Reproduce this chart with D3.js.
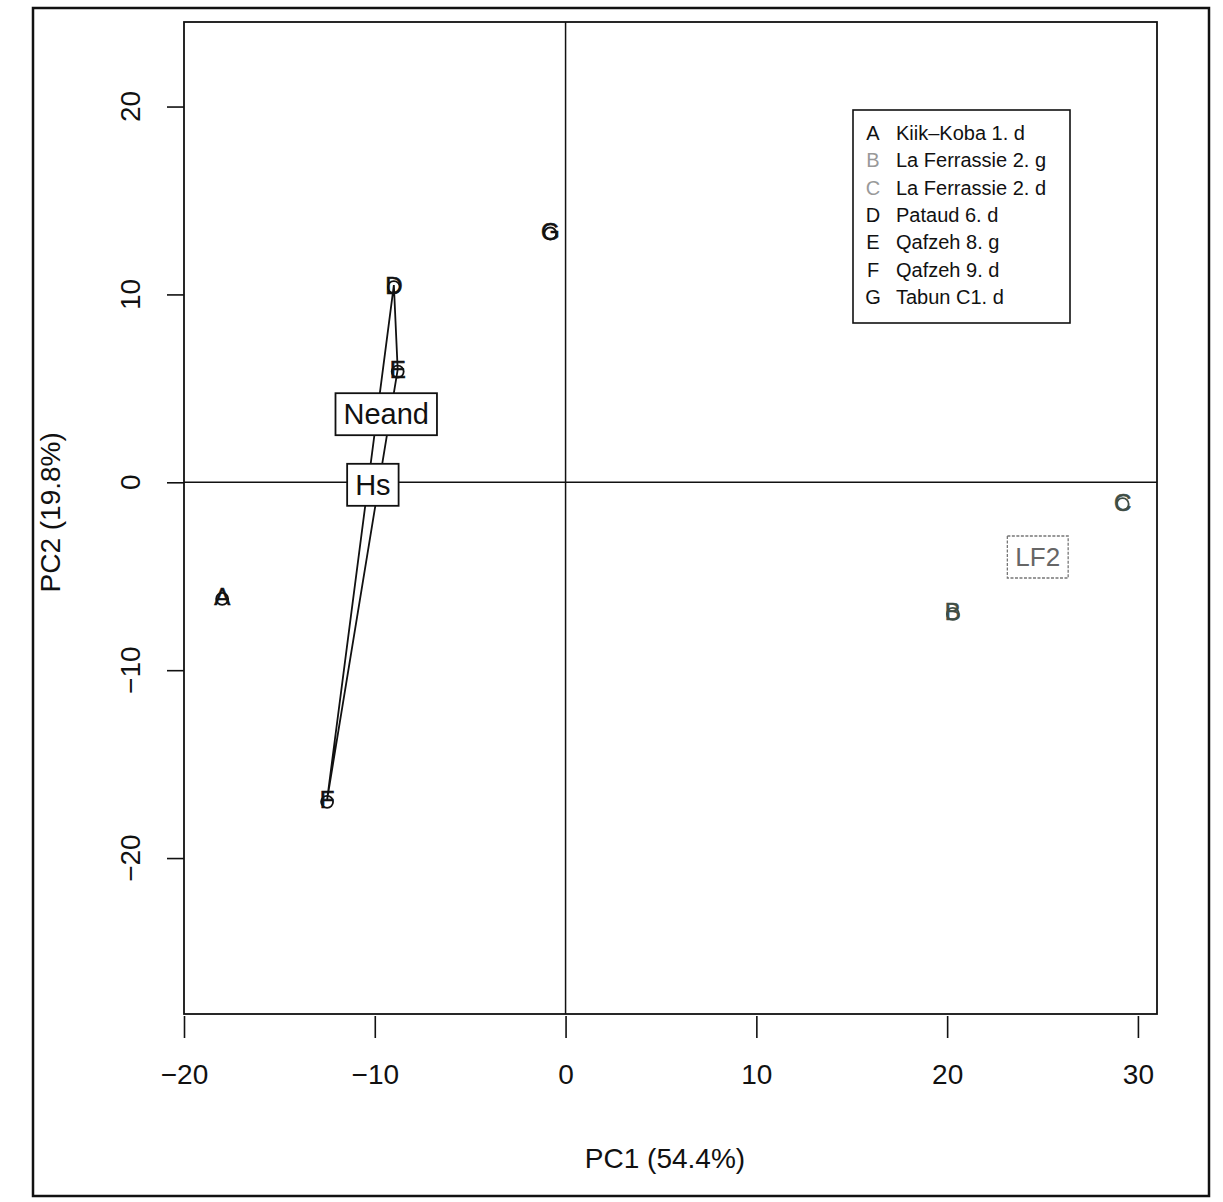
<!DOCTYPE html>
<html>
<head>
<meta charset="utf-8">
<script src="https://cdn.jsdelivr.net/npm/d3@7"></script>
<style>
  html, body { margin: 0; padding: 0; background: #ffffff; }
  svg text { font-family: "Liberation Sans", Arial, sans-serif; }
</style>
</head>
<body>
<svg id="chart" width="1223" height="1202"></svg>
<script>
// ---- data ----
const ids    = ["A", "B", "C", "D", "E", "F", "G"];
const names  = ["Kiik\u2013Koba 1. d", "La Ferrassie 2. g", "La Ferrassie 2. d",
                "Pataud 6. d", "Qafzeh 8. g", "Qafzeh 9. d", "Tabun C1. d"];
const groups = ["Neand", "LF2", "LF2", "Hs", "Hs", "Hs", "Neand"];
const pc1    = [-18.0, 20.3, 29.2, -9.0, -8.8, -12.5, -0.8];
const pc2    = [-6.1, -6.9, -1.05, 10.5, 6.0, -16.9, 13.35];
const xTicks = [-20, -10, 0, 10, 20, 30];
const yTicks = [-20, -10, 0, 10, 20];
const groupNames = ["Neand", "Hs", "LF2"];
const xTitle = "PC1 (54.4%)";
const yTitle = "PC2 (19.8%)";

// ---- layout ----
const svg = d3.select("#chart");
const plot = { left: 184, right: 1157, top: 22, bottom: 1014 };
const x = d3.scaleLinear().domain([-20, 31.0]).range([plot.left, plot.right]);
const y = d3.scaleLinear().domain([24.5, -28.3]).range([plot.top, plot.bottom]);

const pts = ids.map((id, i) => ({ id, name: names[i], g: groups[i], x: pc1[i], y: pc2[i] }));
const isGrey = g => g === "LF2";

// outer figure frame
svg.append("rect").attr("x", 33).attr("y", 8).attr("width", 1176).attr("height", 1188)
  .attr("fill", "none").attr("stroke", "#111").attr("stroke-width", 2.5);

const clipId = "plotclip";
svg.append("clipPath").attr("id", clipId).append("rect")
  .attr("x", plot.left).attr("y", plot.top)
  .attr("width", plot.right - plot.left).attr("height", plot.bottom - plot.top);

const g = svg.append("g").attr("clip-path", `url(#${clipId})`);

// zero lines
g.append("line").attr("x1", plot.left).attr("x2", plot.right)
  .attr("y1", y(0)).attr("y2", y(0)).attr("stroke", "#111").attr("stroke-width", 1.5);
g.append("line").attr("x1", x(0)).attr("x2", x(0))
  .attr("y1", plot.top).attr("y2", plot.bottom).attr("stroke", "#111").attr("stroke-width", 1.5);

// group outlines (hull of each group's points, when there are at least 3)
groupNames.forEach(gn => {
  const members = pts.filter(p => p.g === gn).map(p => [x(p.x), y(p.y)]);
  const hull = members.length >= 3 ? d3.polygonHull(members) : null;
  if (hull) {
    g.append("path").attr("d", "M" + hull.join("L") + "Z")
      .attr("fill", "none").attr("stroke", "#111").attr("stroke-width", 1.8);
  }
});

// points: small open circle + letter
pts.forEach(p => {
  const col = isGrey(p.g) ? "#3f4d45" : "#111";
  g.append("circle").attr("cx", x(p.x)).attr("cy", y(p.y) + 2).attr("r", 6)
    .attr("fill", "none").attr("stroke", col).attr("stroke-width", 1.8);
  g.append("text").attr("x", x(p.x)).attr("y", y(p.y))
    .attr("text-anchor", "middle").attr("dominant-baseline", "central")
    .attr("font-size", 24).attr("fill", col)
    .attr("stroke", col).attr("stroke-width", 0.6).text(p.id);
});

// group centroid labels
groupNames.forEach(gn => {
  const m = pts.filter(p => p.g === gn);
  const cx = x(d3.mean(m, p => p.x)), cy = y(d3.mean(m, p => p.y));
  const grey = isGrey(gn);
  const fs = grey ? 26 : 29;
  const t = g.append("text").attr("x", cx).attr("y", cy)
    .attr("text-anchor", "middle").attr("dominant-baseline", "central")
    .attr("font-size", fs).attr("fill", grey ? "#666" : "#111").text(gn);
  const bb = t.node().getBBox();
  g.insert("rect", () => t.node())
    .attr("x", bb.x - 8).attr("y", cy - 21).attr("width", bb.width + 16).attr("height", 42)
    .attr("fill", "#fff").attr("stroke", grey ? "#777" : "#111")
    .attr("stroke-width", grey ? 1.3 : 1.8)
    .attr("stroke-dasharray", grey ? "3,1.5" : null);
});

// plot box
svg.append("rect").attr("x", plot.left).attr("y", plot.top)
  .attr("width", plot.right - plot.left).attr("height", plot.bottom - plot.top)
  .attr("fill", "none").attr("stroke", "#111").attr("stroke-width", 1.8);

// x axis
const xAxis = d3.axisBottom(x).tickValues(xTicks).tickSize(22).tickPadding(26)
  .tickFormat(d => d < 0 ? "\u2212" + Math.abs(d) : String(d));
const gx = svg.append("g").attr("transform", `translate(0,${plot.bottom + 2})`).call(xAxis);
gx.select(".domain").remove();
gx.selectAll(".tick line").attr("stroke", "#111").attr("stroke-width", 1.6);
gx.selectAll(".tick text").attr("font-size", 28).attr("fill", "#111")
  .attr("font-family", "Liberation Sans, Arial, sans-serif");

// y axis (rotated labels, R style)
const yAxis = d3.axisLeft(y).tickValues(yTicks).tickSize(17).tickPadding(0).tickFormat("");
const gy = svg.append("g").attr("transform", `translate(${plot.left},0)`).call(yAxis);
gy.select(".domain").remove();
gy.selectAll(".tick line").attr("stroke", "#111").attr("stroke-width", 1.6);
yTicks.forEach(v => {
  svg.append("text")
    .attr("transform", `translate(130,${y(v)}) rotate(-90)`)
    .attr("text-anchor", "middle").attr("dominant-baseline", "central")
    .attr("font-size", 28).attr("fill", "#111")
    .text(v < 0 ? "\u2212" + Math.abs(v) : String(v));
});

// axis titles
svg.append("text").attr("x", 665).attr("y", 1158)
  .attr("text-anchor", "middle").attr("dominant-baseline", "central")
  .attr("font-size", 28).attr("fill", "#111").text(xTitle);
svg.append("text").attr("transform", `translate(50,${y(-1.6)}) rotate(-90)`)
  .attr("text-anchor", "middle").attr("dominant-baseline", "central")
  .attr("font-size", 28).attr("fill", "#111").text(yTitle);

// legend
const lg = svg.append("g").attr("transform", "translate(853,110)");
lg.append("rect").attr("width", 217).attr("height", 213)
  .attr("fill", "#fff").attr("stroke", "#111").attr("stroke-width", 1.6);
pts.forEach((p, i) => {
  const yy = 23 + i * 27.3;
  const col = isGrey(p.g) ? "#999" : "#111";
  lg.append("text").attr("x", 20).attr("y", yy).attr("text-anchor", "middle")
    .attr("dominant-baseline", "central").attr("font-size", 20).attr("fill", col).text(p.id);
  lg.append("text").attr("x", 43).attr("y", yy)
    .attr("dominant-baseline", "central").attr("font-size", 20).attr("fill", "#111").text(p.name);
});
</script>
</body>
</html>
